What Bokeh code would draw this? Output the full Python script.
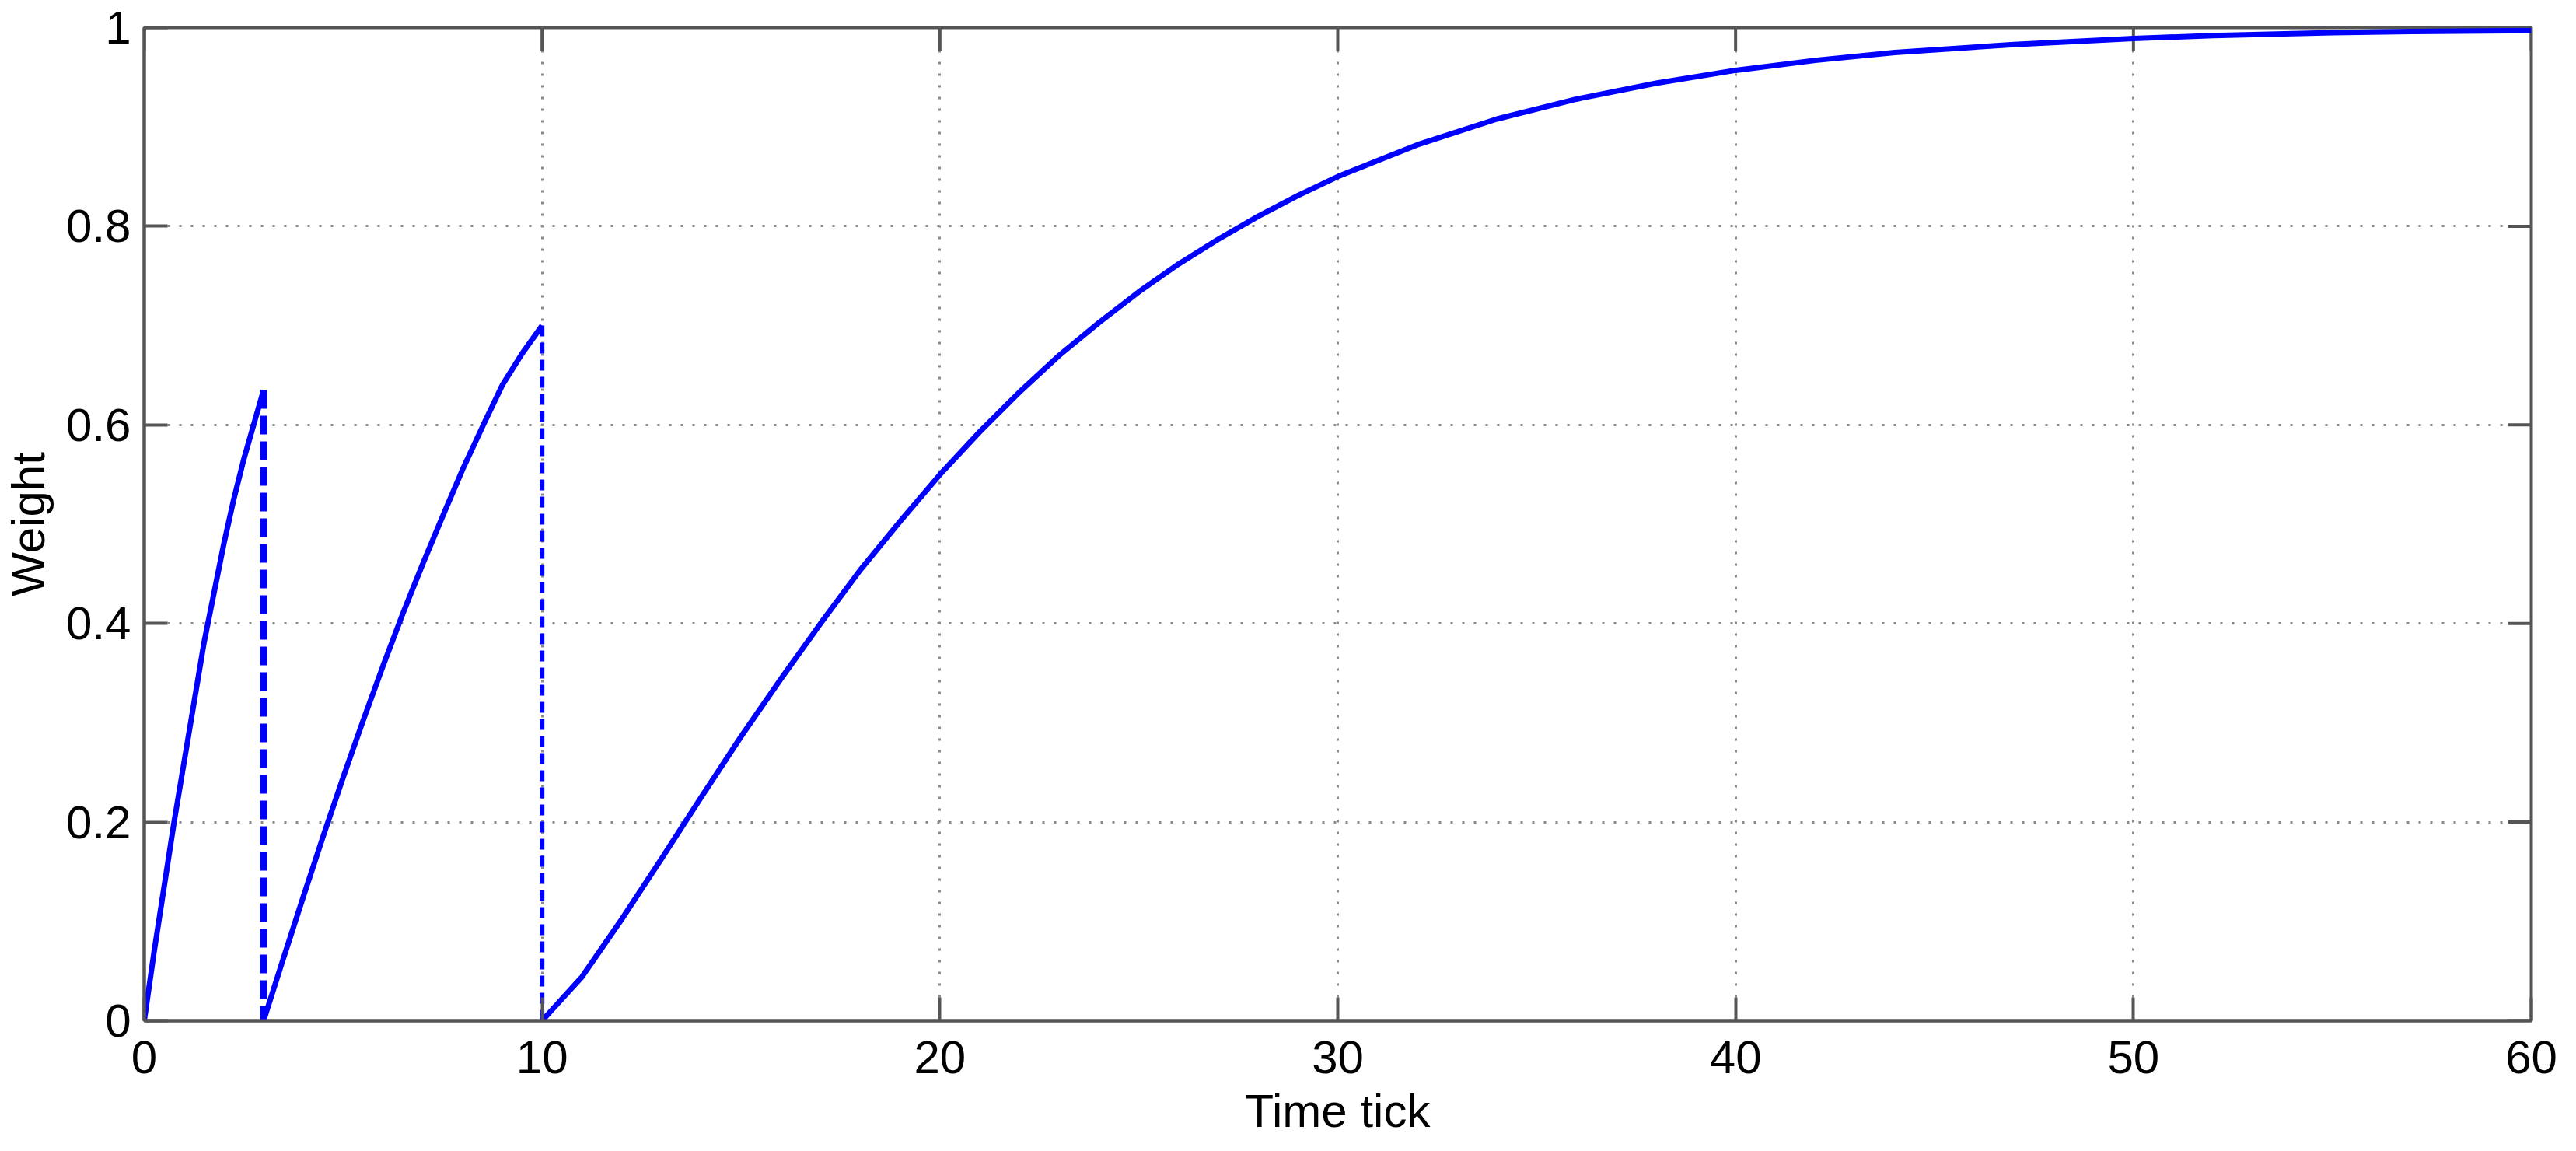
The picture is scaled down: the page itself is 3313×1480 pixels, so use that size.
from bokeh.plotting import figure
from bokeh.models import Range1d, FixedTicker, ColumnDataSource
from bokeh.embed import file_html
from bokeh.resources import INLINE

# ---- data ----
seg1_x = [0, 0.25, 0.5, 0.75, 1, 1.25, 1.5, 1.75, 2, 2.25, 2.5, 2.75, 3]
seg1_y = [0, 0.07, 0.135, 0.2, 0.26, 0.32, 0.38, 0.43, 0.48, 0.525, 0.565, 0.60, 0.635]

seg2_x = [3, 3.5, 4, 4.5, 5, 5.5, 6, 6.5, 7, 7.5, 8, 8.5, 9, 9.5, 10]
seg2_y = [0, 0.063, 0.125, 0.186, 0.245, 0.302, 0.357, 0.41, 0.46, 0.508, 0.555, 0.598,
          0.64, 0.672, 0.70]

seg3_x = [10, 11, 12, 13, 14, 15, 16, 17, 18, 19, 20, 21, 22, 23, 24, 25, 26, 27, 28, 29,
          30, 32, 34, 36, 38, 40, 42, 44, 47, 50, 52, 55, 57, 60]
seg3_y = [0, 0.044, 0.102, 0.163, 0.225, 0.286, 0.344, 0.400, 0.454, 0.503, 0.550, 0.593,
          0.633, 0.670, 0.703, 0.734, 0.762, 0.787, 0.810, 0.831, 0.850, 0.882, 0.908,
          0.928, 0.944, 0.957, 0.967, 0.975, 0.983, 0.989, 0.992, 0.995, 0.996, 0.997]

drop_x = [3, 10]
drop_top = [0.635, 0.70]
drop_bottom = [0, 0]

x_ticks = [0, 10, 20, 30, 40, 50, 60]
y_ticks = [0, 0.2, 0.4, 0.6, 0.8, 1.0]
y_tick_labels = ["0", "0.2", "0.4", "0.6", "0.8", "1"]

X_MIN, X_MAX = 0, 60
Y_MIN, Y_MAX = 0, 1

# ---- styling ----
FONT = "Liberation Sans"
FS = "60px"
AX_COLOR = "#555555"
BLUE = "#0000ff"
TICK_PX = 30
FIG_W, FIG_H = 3297, 1464
B_LEFT, B_RIGHT, B_TOP, B_BOTTOM = 182, 42, 35, 148
FRAME_W = FIG_W - B_LEFT - B_RIGHT
FRAME_H = FIG_H - B_TOP - B_BOTTOM

p = figure(width=FIG_W, height=FIG_H, output_backend="svg", toolbar_location=None,
           x_range=Range1d(X_MIN, X_MAX), y_range=Range1d(Y_MIN, Y_MAX),
           min_border_left=B_LEFT, min_border_right=B_RIGHT,
           min_border_top=B_TOP, min_border_bottom=B_BOTTOM,
           x_axis_label="Time tick", y_axis_label="Weight")

p.background_fill_color = "white"
p.border_fill_color = "white"
p.outline_line_color = AX_COLOR
p.outline_line_width = 4

for ax, ticks in ((p.xaxis[0], x_ticks), (p.yaxis[0], y_ticks)):
    ax.ticker = FixedTicker(ticks=ticks)
    ax.axis_line_color = AX_COLOR
    ax.axis_line_width = 4
    ax.major_tick_line_color = AX_COLOR
    ax.major_tick_line_width = 4
    ax.major_tick_in = TICK_PX
    ax.major_tick_out = 0
    ax.minor_tick_line_color = None
    ax.major_label_text_font = FONT
    ax.major_label_text_font_size = FS
    ax.major_label_text_color = "black"
    ax.axis_label_text_font = FONT
    ax.axis_label_text_font_size = FS
    ax.axis_label_text_font_style = "normal"
    ax.axis_label_text_color = "black"

xa = p.xaxis[0]
ya = p.yaxis[0]
xa.major_label_standoff = 26
xa.axis_label_standoff = 12
ya.major_label_standoff = 17
ya.axis_label_standoff = 12
ya.major_label_overrides = {t: l for t, l in zip(y_ticks, y_tick_labels)}

for g, ticks in ((p.xgrid[0], x_ticks), (p.ygrid[0], y_ticks)):
    g.ticker = FixedTicker(ticks=ticks)
    g.grid_line_color = "#8a8a8a"
    g.grid_line_width = 3
    g.grid_line_dash = "3 12"

# inward ticks on the top and right edges of the box (MATLAB style)
dy = TICK_PX / FRAME_H * (Y_MAX - Y_MIN)
dx = TICK_PX / FRAME_W * (X_MAX - X_MIN)
p.segment(x0=x_ticks, y0=[Y_MAX] * len(x_ticks), x1=x_ticks, y1=[Y_MAX - dy] * len(x_ticks),
          line_color=AX_COLOR, line_width=4)
p.segment(x0=[X_MAX] * len(y_ticks), y0=y_ticks, x1=[X_MAX - dx] * len(y_ticks), y1=y_ticks,
          line_color=AX_COLOR, line_width=4)

p.line(seg1_x, seg1_y, line_color=BLUE, line_width=7)
p.line(seg2_x, seg2_y, line_color=BLUE, line_width=7)
p.line(seg3_x, seg3_y, line_color=BLUE, line_width=7)

p.segment(x0="x", y0="y0", x1="x", y1="y1",
          source=ColumnDataSource(dict(x=drop_x[:1], y0=drop_top[:1], y1=drop_bottom[:1])),
          line_color=BLUE, line_width=9, line_dash="24 9")
p.segment(x0="x", y0="y0", x1="x", y1="y1",
          source=ColumnDataSource(dict(x=drop_x[1:], y0=drop_top[1:], y1=drop_bottom[1:])),
          line_color=BLUE, line_width=6, line_dash="14 8")

open("out.html", "w").write(file_html(p, INLINE))
